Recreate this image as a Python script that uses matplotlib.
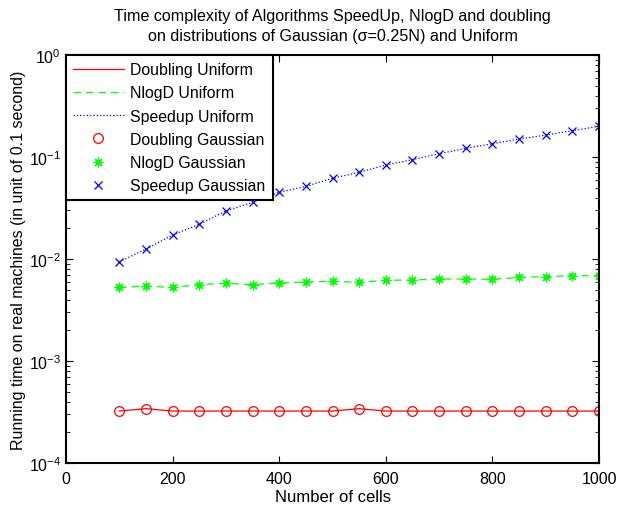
import matplotlib
matplotlib.use('Agg')
import matplotlib.pyplot as plt
from matplotlib.ticker import LogLocator, NullFormatter

plt.rcParams['font.family'] = ['Liberation Sans', 'DejaVu Sans']
plt.rcParams['mathtext.fontset'] = 'custom'
plt.rcParams['mathtext.rm'] = 'Liberation Sans'

cells = [100, 150, 200, 250, 300, 350, 400, 450, 500, 550,
         600, 650, 700, 750, 800, 850, 900, 950, 1000]

doubling_uniform = [0.000323, 0.000341, 0.000323, 0.000323, 0.000323, 0.000323, 0.000323,
                    0.000323, 0.000323, 0.000341, 0.000323, 0.000323, 0.000323, 0.000323,
                    0.000323, 0.000323, 0.000323, 0.000323, 0.000323]
nlogd_uniform = [0.00528, 0.0054, 0.00528, 0.0056, 0.00578, 0.0056, 0.00582, 0.00595,
                 0.00604, 0.0059, 0.00618, 0.00623, 0.00637, 0.00637, 0.00632, 0.0066,
                 0.00671, 0.00686, 0.00686]
speedup_uniform = [0.0094, 0.0125, 0.0172, 0.0219, 0.0296, 0.036, 0.0451, 0.0516, 0.0618,
                   0.0708, 0.0835, 0.0941, 0.1077, 0.1217, 0.135, 0.150, 0.164, 0.181, 0.200]

doubling_gauss = [0.000323, 0.000341, 0.000323, 0.000323, 0.000323, 0.000323, 0.000323,
                  0.000323, 0.000323, 0.000341, 0.000323, 0.000323, 0.000323, 0.000323,
                  0.000323, 0.000323, 0.000323, 0.000323, 0.000323]
nlogd_gauss = [0.00528, 0.0054, 0.00528, 0.0056, 0.00578, 0.0056, 0.00582, 0.00595,
               0.00604, 0.0059, 0.00618, 0.00623, 0.00637, 0.00637, 0.00632, 0.0066,
               0.00671, 0.00686, 0.00686]
speedup_gauss = [0.0094, 0.0125, 0.0172, 0.0219, 0.0296, 0.036, 0.0451, 0.0516, 0.0618,
                 0.0708, 0.0835, 0.0941, 0.1077, 0.1217, 0.135, 0.150, 0.164, 0.181, 0.200]

fig = plt.figure(figsize=(6.18, 5.06), dpi=100)
ax = fig.add_axes([0.1068, 0.083, 0.8625, 0.8063])

ax.plot(cells, doubling_uniform, '-', color='red', lw=0.9, label='Doubling Uniform')
ax.plot(cells, nlogd_uniform, '--', color='#00ff00', lw=0.9, dashes=(6, 4), label='NlogD Uniform')
ax.plot(cells, speedup_uniform, ':', color='blue', lw=0.9, label='Speedup Uniform')
ax.plot(cells, doubling_gauss, 'o', color='red', mfc='none', ms=7, mew=0.9, label='Doubling Gaussian')
ax.plot(cells, nlogd_gauss, ls='none', marker=(8, 2, 0), color='#00ff00', ms=7, mew=0.9, label='NlogD Gaussian')
ax.plot(cells, speedup_gauss, 'x', color='blue', ms=5.5, mew=0.9, label='Speedup Gaussian')

ax.set_yscale('log')
ax.set_xlim(0, 1000)
ax.set_ylim(1e-4, 1)
ax.set_xticks([0, 200, 400, 600, 800, 1000])
ax.yaxis.set_major_locator(LogLocator(base=10, numticks=10))
ax.yaxis.set_minor_locator(LogLocator(base=10, subs=range(2, 10), numticks=20))
ax.yaxis.set_minor_formatter(NullFormatter())
ax.tick_params(which='both', direction='in', top=True, right=True, labelsize=11.5)
ax.tick_params(axis='x', pad=6)
ax.tick_params(which='major', length=5)
ax.tick_params(which='minor', length=3)
for s in ax.spines.values():
    s.set_linewidth(1.5)

ax.set_title('Time complexity of Algorithms SpeedUp, NlogD and doubling\n'
             'on distributions of Gaussian (\u03c3=0.25N) and Uniform', fontsize=11.6, pad=11,
             linespacing=1.38)
ax.set_xlabel('Number of cells', fontsize=12, labelpad=2)
ax.set_ylabel('Running time on real machines (in unit of 0.1 second)', fontsize=11.5, labelpad=2)

leg = ax.legend(loc='upper left', fontsize=11.4, borderaxespad=0, fancybox=False,
                framealpha=1, edgecolor='black', handlelength=3.2, handletextpad=0.4,
                labelspacing=0.52, borderpad=0.45)
leg.get_frame().set_linewidth(1.5)

fig.savefig('out.png', dpi=100)
